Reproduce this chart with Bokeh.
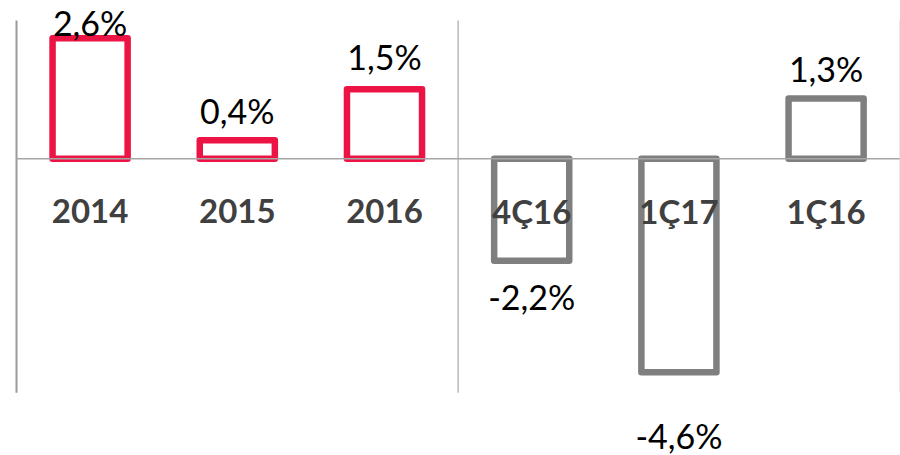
from bokeh.plotting import figure
from bokeh.models import Range1d, ColumnDataSource
from bokeh.core.properties import value
from bokeh.embed import file_html
from bokeh.resources import INLINE

# ---- data ----
categories = ["2014", "2015", "2016", "4Ç16", "1Ç17", "1Ç16"]
values = [2.6, 0.4, 1.5, -2.2, -4.6, 1.3]
value_labels = ["2,6%", "0,4%", "1,5%", "-2,2%", "-4,6%", "1,3%"]
groups = ["annual", "annual", "annual", "quarter", "quarter", "quarter"]

# ---- style ----
RED = "#EB1445"
GREY = "#7F7F7F"
colors = {"annual": RED, "quarter": GREY}
AXIS_MIN, AXIS_MAX = -5.04, 2.98     # extent of the drawn axis lines
label_shift = [-16, -30, -33, 36, 63, -30]   # px from bar end to label centre
CAT_SHIFT = 52
FONT = "Lato"

W, H = 900, 455
PX_X, PX_Y = 147.2, 46.4   # pixels per category / per percent
LEFT, TOP = 16, 20         # position of axis origin inside the figure

x_range = Range1d(-LEFT / PX_X, (W - LEFT) / PX_X)
y_range = Range1d(AXIS_MAX - (H - TOP) / PX_Y, AXIS_MAX + TOP / PX_Y)

p = figure(width=W, height=H, x_range=x_range, y_range=y_range,
           output_backend="svg", toolbar_location=None,
           min_border=0, min_border_left=0, min_border_right=0,
           min_border_top=0, min_border_bottom=0)
p.axis.visible = False
p.grid.visible = False
p.outline_line_color = None
p.background_fill_color = "white"
p.border_fill_color = "white"

xs = [i + 0.5 for i in range(len(categories))]
src = ColumnDataSource(dict(x=xs, top=values, cat=categories,
                            color=[colors[g] for g in groups],
                            lab=value_labels, shift=label_shift))

p.vbar(x="x", top="top", bottom=0, width=0.51, source=src,
       fill_color="white", line_color="color", line_width=6.5,
       line_join="round")

n = len(categories)
# axis lines
p.segment(x0=[0], y0=[AXIS_MIN], x1=[0], y1=[AXIS_MAX],
          line_color="#9a9a9a", line_width=2)
p.segment(x0=[n / 2], y0=[AXIS_MIN], x1=[n / 2], y1=[AXIS_MAX],
          line_color="#a6a6a6", line_width=1.2)
p.segment(x0=[n], y0=[AXIS_MIN], x1=[n], y1=[AXIS_MAX],
          line_color="#e3e3e3", line_width=1)
p.segment(x0=[0], y0=[0], x1=[n], y1=[0],
          line_color="#a6a6a6", line_width=1.6)

# category labels
p.text(x="x", y=0, text="cat", source=src, text_align="center",
       text_baseline="middle", y_offset=CAT_SHIFT,
       text_font=value(FONT), text_font_style="bold",
       text_font_size="33px", text_color="#404040")

# value labels
p.text(x="x", y="top", text="lab", source=src, y_offset="shift",
       text_align="center", text_baseline="middle",
       text_font=value(FONT), text_font_size="34px", text_color="black")

open("out.html", "w").write(file_html(p, INLINE))
